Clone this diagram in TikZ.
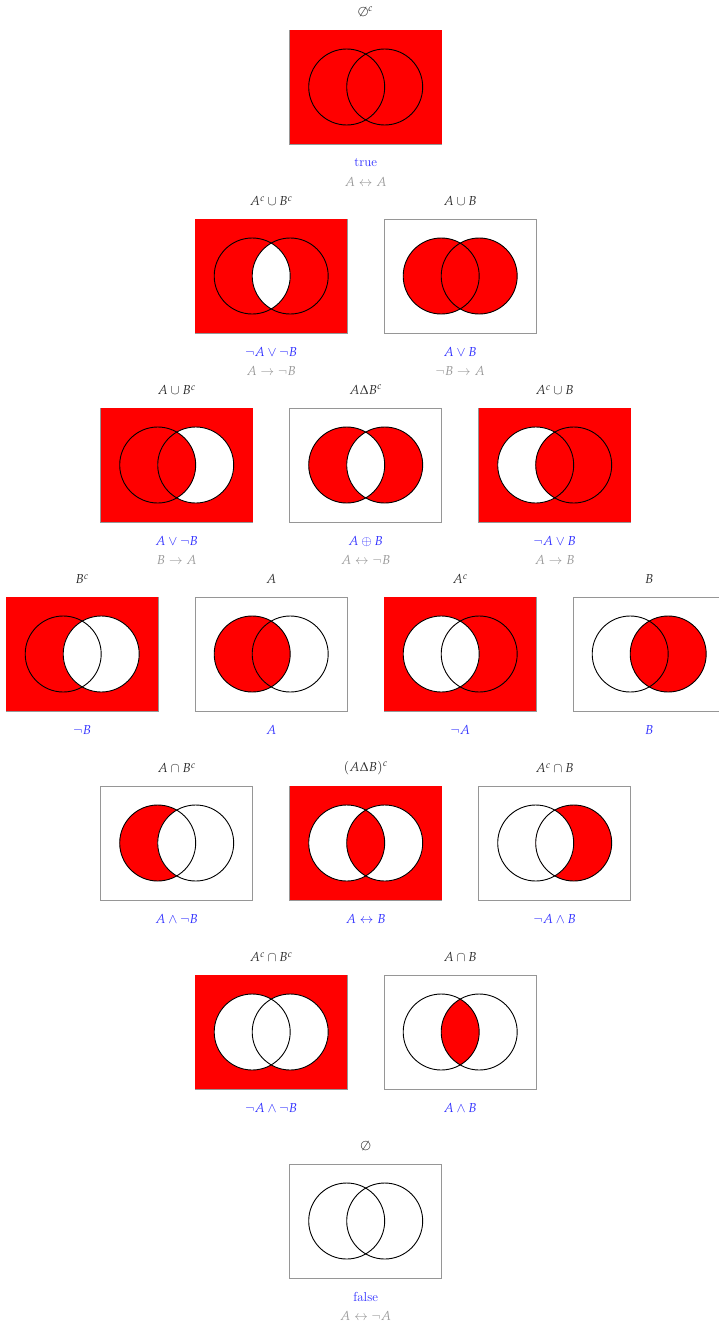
\documentclass[tikz,border=0pt]{standalone}
\usepackage{mathpazo}
\usetikzlibrary{calc}
\definecolor{R}{RGB}{255,0,0}
\definecolor{W}{RGB}{255,255,255}
\definecolor{toplab}{RGB}{40,40,40}
\definecolor{bluelab}{RGB}{45,45,255}
\definecolor{graylab}{RGB}{150,150,150}
\definecolor{frame}{RGB}{150,150,150}
\tikzset{
  toplabel/.style={text=toplab,font=\fontsize{13}{15}\selectfont,inner sep=0pt},
  bluelabel/.style={text=bluelab,font=\fontsize{13}{15}\selectfont,inner sep=0pt},
  graylabel/.style={text=graylab,font=\fontsize{13}{15}\selectfont,inner sep=0pt},
  vennbox/.style={draw=frame,line width=1pt,minimum width=152pt,minimum height=114pt,inner sep=0pt,outer sep=0pt},
  venncircle/.style={draw=black,line width=0.9pt}
}
% #1 name, #2 center x, #3 top y, #4 outside, #5 A only, #6 A and B, #7 B only, #8 top label, #9 blue label
\newcommand\venndiag[9]{%
  \node[vennbox,fill=#4] (#1) at (#2,#3+57) {};
  \ifx#4R\fill[R] (#1.south west) rectangle (#1.north east);\fi
  \coordinate (#1-a) at ($(#1.center)+(-19pt,0)$);
  \coordinate (#1-b) at ($(#1.center)+(19pt,0)$);
  \fill[#5] (#1-a) circle[radius=38pt];
  \fill[#7] (#1-b) circle[radius=38pt];
  \begin{scope}
    \clip (#1-a) circle[radius=38pt];
    \fill[#6] (#1-b) circle[radius=38pt];
  \end{scope}
  \draw[venncircle] (#1-a) circle[radius=38pt];
  \draw[venncircle] (#1-b) circle[radius=38pt];
  \node[toplabel] (#1-t) at (#2,#3-18) {#8};
  \node[bluelabel] (#1-l) at (#2,#3+133) {#9};
}
\begin{document}
\begin{tikzpicture}[x=1pt,y=-1pt]
\useasboundingbox (0,0) rectangle (719,1325);
% row 1
\venndiag{t}{365.7}{30}{R}{R}{R}{R}{$\emptyset^c$}{true}
\node[graylabel] (t-g) at ([yshift=-19pt]t-l.center) {$A\leftrightarrow A$};
% row 2
\venndiag{nand}{271.2}{219}{R}{R}{W}{R}{$A^c\cup B^c$}{$\neg A\vee\neg B$}
\node[graylabel] (nand-g) at ([yshift=-19pt]nand-l.center) {$A\rightarrow\neg B$};
\venndiag{or}{460.2}{219}{W}{R}{R}{R}{$A\cup B$}{$A\vee B$}
\node[graylabel] (or-g) at ([yshift=-19pt]or-l.center) {$\neg B\rightarrow A$};
% row 3
\venndiag{bia}{176.7}{408}{R}{R}{R}{W}{$A\cup B^c$}{$A\vee\neg B$}
\node[graylabel] (bia-g) at ([yshift=-19pt]bia-l.center) {$B\rightarrow A$};
\venndiag{xor}{365.7}{408}{W}{R}{W}{R}{$A\Delta B^c$}{$A\oplus B$}
\node[graylabel] (xor-g) at ([yshift=-19pt]xor-l.center) {$A\leftrightarrow\neg B$};
\venndiag{aib}{554.7}{408}{R}{W}{R}{R}{$A^c\cup B$}{$\neg A\vee B$}
\node[graylabel] (aib-g) at ([yshift=-19pt]aib-l.center) {$A\rightarrow B$};
% row 4
\venndiag{nb}{82.2}{597}{R}{R}{W}{W}{$B^c$}{$\neg B$}
\venndiag{a}{271.2}{597}{W}{R}{R}{W}{$A$}{$A$}
\venndiag{na}{460.2}{597}{R}{W}{W}{R}{$A^c$}{$\neg A$}
\venndiag{b}{649.2}{597}{W}{W}{R}{R}{$B$}{$B$}
% row 5
\venndiag{anb}{176.7}{786}{W}{R}{W}{W}{$A\cap B^c$}{$A\wedge\neg B$}
\venndiag{eq}{365.7}{786}{R}{W}{R}{W}{$(A\Delta B)^c$}{$A\leftrightarrow B$}
\venndiag{nab}{554.7}{786}{W}{W}{W}{R}{$A^c\cap B$}{$\neg A\wedge B$}
% row 6
\venndiag{nor}{271.2}{975}{R}{W}{W}{W}{$A^c\cap B^c$}{$\neg A\wedge\neg B$}
\venndiag{and}{460.2}{975}{W}{W}{R}{W}{$A\cap B$}{$A\wedge B$}
% row 7
\venndiag{f}{365.7}{1164}{W}{W}{W}{W}{$\emptyset$}{false}
\node[graylabel] (f-g) at ([yshift=-19pt]f-l.center) {$A\leftrightarrow\neg A$};
\end{tikzpicture}
\end{document}
